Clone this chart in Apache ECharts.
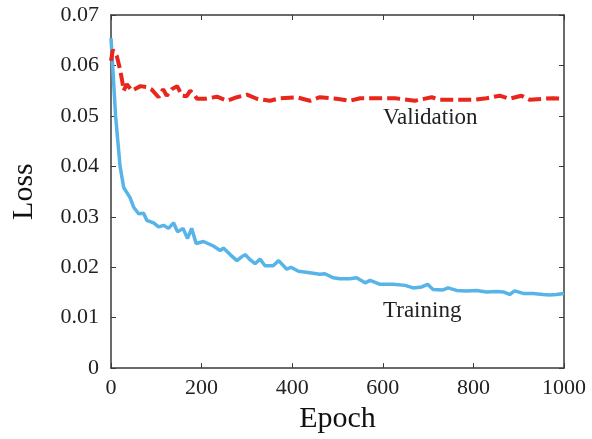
<!DOCTYPE html>
<html><head><meta charset="utf-8">
<script src="https://cdn.jsdelivr.net/npm/echarts@6/dist/echarts.min.js"></script>
<style>html,body{margin:0;padding:0;background:#fff}#c{width:592px;height:439px}</style>
</head><body><div id="c"></div>
<script>
var xTicks = [0, 200, 400, 600, 800, 1000];
var yTicks = [0, 0.01, 0.02, 0.03, 0.04, 0.05, 0.06, 0.07];

var trainEpochs = [0, 5, 10, 20, 28, 42, 50, 61, 72, 79, 94, 105, 116, 127, 138, 147, 159, 169, 178, 188, 204, 226, 241, 248, 263, 278, 289, 296, 307, 318, 329, 340, 358, 370, 388, 397, 414, 439, 461, 472, 491, 505, 527, 542, 561, 572, 594, 623, 649, 667, 686, 699, 711, 733, 744, 763, 785, 807, 829, 851, 866, 880, 891, 910, 932, 954, 968, 983, 1000];
var trainLoss = [0.0654, 0.058, 0.0501, 0.0400, 0.0358, 0.0338, 0.0319, 0.0306, 0.0307, 0.0293, 0.0288, 0.0280, 0.0283, 0.0277, 0.0288, 0.0270, 0.0277, 0.0257, 0.0277, 0.0247, 0.0251, 0.0242, 0.0233, 0.0238, 0.0225, 0.0213, 0.0221, 0.0225, 0.0215, 0.0207, 0.0216, 0.0203, 0.0203, 0.0213, 0.0196, 0.0200, 0.0192, 0.0189, 0.0186, 0.0187, 0.0179, 0.0177, 0.0177, 0.0179, 0.0169, 0.0174, 0.0166, 0.0166, 0.0164, 0.0159, 0.0161, 0.0166, 0.0156, 0.0155, 0.0159, 0.0154, 0.0153, 0.0154, 0.0151, 0.0152, 0.0151, 0.0146, 0.0153, 0.0148, 0.0148, 0.0146, 0.0145, 0.0146, 0.0148];

var valEpochs = [0, 4, 13, 20, 24, 28, 35, 46, 65, 79, 90, 105, 115, 123, 134, 146, 157, 167, 175, 182, 190, 208, 234, 256, 278, 300, 322, 351, 373, 410, 439, 461, 498, 527, 550, 594, 627, 671, 708, 726, 763, 800, 829, 858, 880, 906, 924, 954, 976, 1000];
var valLoss = [0.0609, 0.0631, 0.0618, 0.0592, 0.0573, 0.0550, 0.0563, 0.0550, 0.0559, 0.0557, 0.0552, 0.0537, 0.0553, 0.0540, 0.0553, 0.0559, 0.0540, 0.0539, 0.0550, 0.0544, 0.0534, 0.0534, 0.0538, 0.0530, 0.0537, 0.0542, 0.0534, 0.0530, 0.0535, 0.0537, 0.0530, 0.0537, 0.0534, 0.0530, 0.0535, 0.0535, 0.0535, 0.0530, 0.0537, 0.0532, 0.0532, 0.0532, 0.0535, 0.0540, 0.0534, 0.0540, 0.0532, 0.0534, 0.0535, 0.0534];

var xName = 'Epoch', yName = 'Loss';
var trainName = 'Training', valName = 'Validation';

function pairs(xs, ys) { return xs.map(function (x, i) { return [x, ys[i]]; }); }

var font = '"Liberation Serif", "DejaVu Serif", serif';
var axisColor = '#3a3a3a';
var chart = echarts.init(document.getElementById('c'), null, {renderer: 'canvas'});
var common = {
  min: 0, axisLine: {show: true, onZero: false, lineStyle: {color: axisColor, width: 1.5}},
  axisTick: {show: true, inside: true, length: 5, lineStyle: {color: axisColor, width: 1}},
  splitLine: {show: false}
};
chart.setOption({
  animation: false,
  backgroundColor: '#fff',
  grid: {left: 111, right: 28, top: 15, bottom: 66, containLabel: false},
  xAxis: [
    Object.assign({}, common, {type: 'value', max: 1000, interval: 200, position: 'bottom',
      name: xName, nameLocation: 'middle', nameGap: 27,
      nameTextStyle: {fontFamily: font, fontSize: 30, color: '#111'},
      axisLabel: {fontFamily: font, fontSize: 22, color: '#222', margin: 9,
        formatter: function (v) { return xTicks.indexOf(v) >= 0 ? String(v) : ''; }}}),
    Object.assign({}, common, {type: 'value', max: 1000, interval: 200, position: 'top',
      axisLabel: {show: false}})
  ],
  yAxis: [
    Object.assign({}, common, {type: 'value', max: 0.07, interval: 0.01, position: 'left',
      name: yName, nameLocation: 'middle', nameGap: 72,
      nameTextStyle: {fontFamily: font, fontSize: 30, color: '#111'},
      axisLabel: {fontFamily: font, fontSize: 22, color: '#222', margin: 12,
        formatter: function (v) { return v === 0 ? '0' : v.toFixed(2); }}}),
    Object.assign({}, common, {type: 'value', max: 0.07, interval: 0.01, position: 'right',
      axisLabel: {show: false}})
  ],
  series: [
    {name: valName, type: 'line', data: pairs(valEpochs, valLoss), showSymbol: false,
      lineStyle: {color: '#e8261c', width: 4, type: [13, 5]}, z: 3},
    {name: trainName, type: 'line', data: pairs(trainEpochs, trainLoss), showSymbol: false,
      lineStyle: {color: '#56b4e9', width: 3.5}, z: 2}
  ],
  graphic: [
    {type: 'text', left: 383, top: 106, style: {text: valName, font: '23px ' + font, fill: '#222'}},
    {type: 'text', left: 383, top: 299, style: {text: trainName, font: '23px ' + font, fill: '#222'}}
  ]
});
</script></body></html>
